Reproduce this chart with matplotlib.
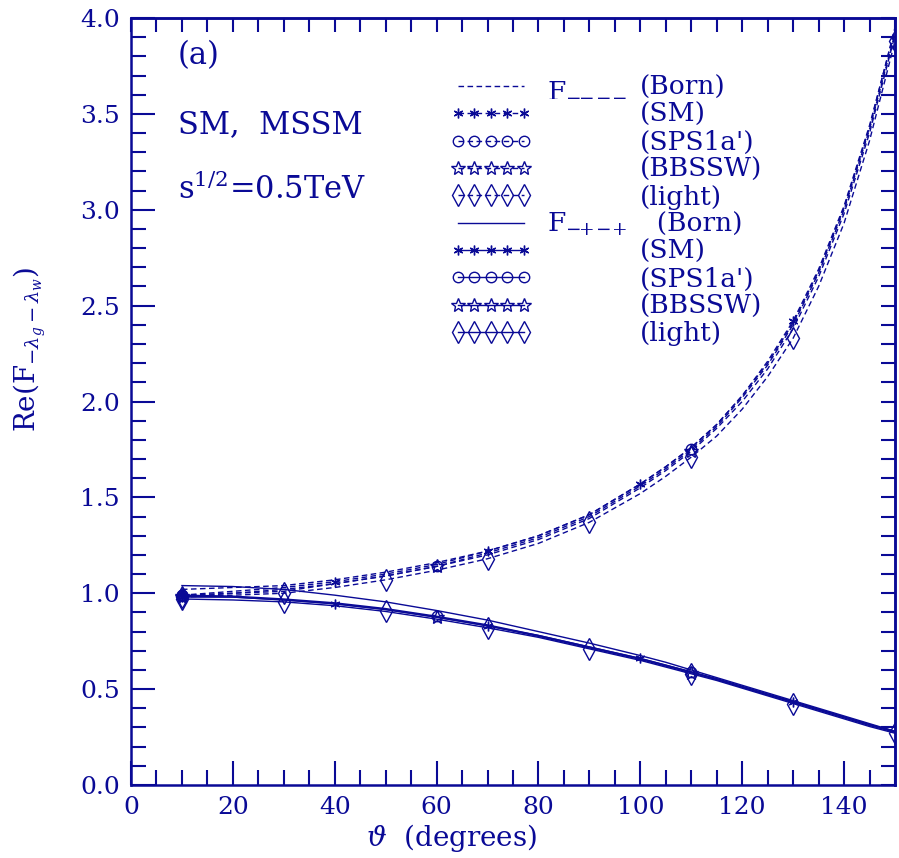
import matplotlib
matplotlib.use("Agg")
import matplotlib.pyplot as plt
from matplotlib.lines import Line2D
from matplotlib.ticker import MultipleLocator, NullFormatter

plt.rcParams['font.family'] = ['DejaVu Serif']
plt.rcParams['mathtext.fontset'] = 'dejavuserif'

BLUE = '#0a0a96'

# angulo (grados)
theta = [10, 20, 30, 40, 50, 60, 70, 80, 90, 100, 105, 110, 115, 120, 125,
         130, 135, 140, 145, 150]

# F_{----}
mmmm_born = [1.02, 1.03, 1.04, 1.07, 1.11, 1.16, 1.22, 1.30, 1.41, 1.57, 1.66,
             1.76, 1.88, 2.03, 2.20, 2.41, 2.68, 3.01, 3.43, 3.95]
mmmm_sm = [0.99, 1.01, 1.03, 1.06, 1.10, 1.15, 1.22, 1.30, 1.41, 1.57, 1.66,
           1.76, 1.88, 2.03, 2.21, 2.42, 2.69, 3.02, 3.44, 3.94]
mmmm_sps = [0.99, 1.00, 1.02, 1.05, 1.09, 1.14, 1.21, 1.29, 1.40, 1.56, 1.65,
            1.75, 1.87, 2.02, 2.19, 2.40, 2.67, 3.00, 3.42, 3.92]
mmmm_bbssw = [0.98, 1.00, 1.01, 1.05, 1.09, 1.14, 1.20, 1.28, 1.39, 1.55, 1.64,
              1.74, 1.86, 2.00, 2.17, 2.38, 2.65, 2.98, 3.40, 3.91]
mmmm_light = [0.98, 0.99, 1.00, 1.03, 1.07, 1.12, 1.18, 1.26, 1.37, 1.52, 1.61,
              1.71, 1.82, 1.96, 2.13, 2.33, 2.60, 2.93, 3.36, 3.88]

# F_{-+-+}
mpmp_born = [1.04, 1.035, 1.02, 0.99, 0.955, 0.91, 0.86, 0.80, 0.74, 0.675,
             0.64, 0.60, 0.56, 0.52, 0.48, 0.44, 0.40, 0.36, 0.32, 0.28]
mpmp_sm = [0.98, 0.98, 0.965, 0.945, 0.915, 0.875, 0.83, 0.78, 0.72, 0.66,
           0.625, 0.59, 0.55, 0.51, 0.47, 0.435, 0.395, 0.355, 0.315, 0.28]
mpmp_sps = [0.99, 0.985, 0.97, 0.95, 0.92, 0.88, 0.835, 0.78, 0.72, 0.66,
            0.625, 0.59, 0.555, 0.515, 0.475, 0.435, 0.395, 0.355, 0.315, 0.28]
mpmp_bbssw = [0.985, 0.98, 0.965, 0.945, 0.915, 0.875, 0.83, 0.775, 0.715,
              0.655, 0.62, 0.585, 0.55, 0.51, 0.47, 0.43, 0.39, 0.35, 0.31,
              0.275]
mpmp_light = [0.97, 0.965, 0.955, 0.935, 0.905, 0.865, 0.82, 0.77, 0.71, 0.65,
              0.615, 0.58, 0.545, 0.505, 0.465, 0.425, 0.385, 0.345, 0.305,
              0.27]

modelos = ['(Born)', '(SM)', "(SPS1a')", '(BBSSW)', '(light)']

# donde van los simbolos de cada modelo
marcas_x = {
    '(Born)': [],
    '(SM)': [10, 40, 70, 100, 130],
    "(SPS1a')": [10, 60, 110],
    '(BBSSW)': [10, 60, 110],
    '(light)': [10, 30, 50, 70, 90, 110, 130, 150],
}
simbolos = {
    '(Born)': dict(marker='None'),
    '(SM)': dict(marker=(6, 2, 0), markersize=7),
    "(SPS1a')": dict(marker='o', markersize=7.5, fillstyle='none'),
    '(BBSSW)': dict(marker='*', markersize=10, fillstyle='none'),
    '(light)': dict(marker='d', markersize=11, fillstyle='none'),
}

curvas_mmmm = [mmmm_born, mmmm_sm, mmmm_sps, mmmm_bbssw, mmmm_light]
curvas_mpmp = [mpmp_born, mpmp_sm, mpmp_sps, mpmp_bbssw, mpmp_light]

fig = plt.figure(figsize=(8.99, 8.58), dpi=100)
ax = fig.add_axes([131 / 899, 73 / 858, 764 / 899, 767 / 858])

guion = (0, (4, 2.5))
handles = []
labels = []
for estilo, curvas in [(guion, curvas_mmmm), ('-', curvas_mpmp)]:
    for nombre, y in zip(modelos, curvas):
        idx = [i for i, t in enumerate(theta) if t in marcas_x[nombre]]
        ax.plot(theta, y, color=BLUE, lw=1.0, linestyle=estilo,
                markevery=idx if idx else None, markeredgewidth=1.0,
                **simbolos[nombre])
        handles.append(Line2D([], [], color=BLUE, lw=1.0, linestyle=estilo,
                              markeredgewidth=1.0, **simbolos[nombre]))
        labels.append(nombre)

labels[5] = '  ' + labels[5]

leg = ax.legend(handles, labels, loc='upper left',
                bbox_to_anchor=((450 - 131) / 764, (785 - 75) / 767),
                frameon=False, numpoints=5, handlelength=3.1,
                handletextpad=4.1, labelspacing=0.09, borderpad=0,
                borderaxespad=0, fontsize=19, labelcolor=BLUE,
                handleheight=0.7)

ax.text((547 - 131) / 764, (785 - 88) / 767, r'F$_{-\!\!-\!\!-\!\!-}$',
        color=BLUE, fontsize=19, transform=ax.transAxes, va='center',
        ha='left')
ax.text((547 - 131) / 764, (785 - 224) / 767, r'F$_{-\!\!+\!\!-\!\!+}$',
        color=BLUE, fontsize=19, transform=ax.transAxes, va='center',
        ha='left')

ax.text((178 - 131) / 764, (785 - 56) / 767, '(a)', color=BLUE, fontsize=22,
        transform=ax.transAxes, va='center')
ax.text((178 - 131) / 764, (785 - 125) / 767, 'SM,  MSSM', color=BLUE,
        fontsize=22, transform=ax.transAxes, va='center')
ax.text((178 - 131) / 764, (785 - 190) / 767, r's$^{1/2}$=0.5TeV', color=BLUE,
        fontsize=22, transform=ax.transAxes, va='center')

ax.set_xlim(0, 150)
ax.set_ylim(0, 4.0)
ax.xaxis.set_major_locator(MultipleLocator(20))
ax.xaxis.set_minor_locator(MultipleLocator(5))
ax.yaxis.set_major_locator(MultipleLocator(0.5))
ax.yaxis.set_minor_locator(MultipleLocator(0.1))
ax.yaxis.set_major_formatter(plt.FuncFormatter(lambda v, p: f'{v:.1f}'))
ax.tick_params(which='both', direction='in', colors=BLUE, width=1.5,
               labelsize=18, labelcolor=BLUE)
ax.tick_params(which='major', length=17, pad=8)
ax.tick_params(which='minor', length=11)

# ejes de arriba y derecha: solo marcas cortas
arriba = ax.secondary_xaxis('top')
arriba.xaxis.set_major_locator(MultipleLocator(5))
arriba.xaxis.set_major_formatter(NullFormatter())
arriba.tick_params(direction='in', length=10, width=1.5, colors=BLUE)
derecha = ax.secondary_yaxis('right')
derecha.yaxis.set_major_locator(MultipleLocator(0.1))
derecha.yaxis.set_major_formatter(NullFormatter())
derecha.tick_params(direction='in', length=10, width=1.5, colors=BLUE)

for s in list(ax.spines.values()) + [arriba.spines['top'],
                                     derecha.spines['right']]:
    s.set_color(BLUE)
    s.set_linewidth(1.8)

ax.set_xlabel(r'$\vartheta$  (degrees)', color=BLUE, fontsize=20)
ax.xaxis.set_label_coords((452 - 131) / 764, (785 - 822) / 767)
ax.set_ylabel(r'Re(F$_{-\lambda_g-\lambda_w}$)', color=BLUE, fontsize=20)
ax.yaxis.set_label_coords((48 - 131) / 764, (785 - 350) / 767)

fig.savefig('out.png', dpi=100)
